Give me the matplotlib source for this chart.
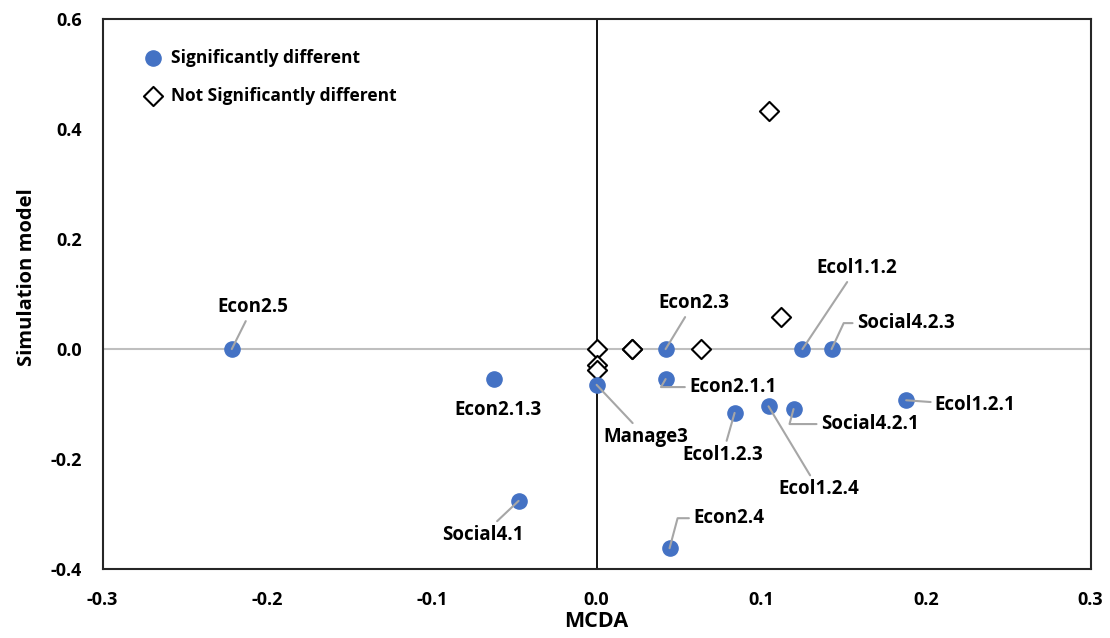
import matplotlib
matplotlib.use('Agg')
import matplotlib.pyplot as plt

plt.rcParams['font.family'] = ['Open Sans', 'DejaVu Sans']
plt.rcParams['font.weight'] = 'bold'

# significantly different points
sig_names = ['Econ2.5', 'Econ2.1.3', 'Social4.1', 'Manage3', 'Econ2.3', 'Econ2.1.1',
             'Econ2.4', 'Ecol1.2.3', 'Ecol1.2.4', 'Social4.2.1', 'Ecol1.1.2',
             'Social4.2.3', 'Ecol1.2.1']
sig_x = [-0.2216, -0.0625, -0.0474, 0.0, 0.0419, 0.0419, 0.0443, 0.0838, 0.1044,
         0.1196, 0.125, 0.1427, 0.188]
sig_y = [0.0, -0.0545, -0.276, -0.065, 0.0, -0.0545, -0.362, -0.116, -0.104, -0.109,
         0.0, 0.0, -0.093]

# not significantly different points
nonsig_x = [0.0, 0.0, 0.0, 0.0213, 0.0213, 0.0631, 0.1044, 0.1117]
nonsig_y = [0.0, -0.029, -0.038, 0.0, 0.0, 0.0, 0.433, 0.058]

# label placement: offset in pixels from the point, connector style
label_offsets = {
    'Econ2.5':     ((21, 42), 'arc3'),
    'Econ2.1.3':   ((4, -31), None),
    'Social4.1':   ((-36, -34), 'arc3'),
    'Manage3':     ((49, -52), 'arc3'),
    'Econ2.3':     ((28, 46), 'arc3'),
    'Econ2.1.1':   ((67, -8), 'angle,angleA=0,angleB=60,rad=0'),
    'Econ2.4':     ((59, 30), 'angle,angleA=0,angleB=75,rad=0'),
    'Ecol1.2.3':   ((-12, -42), 'arc3'),
    'Ecol1.2.4':   ((50, -83), 'arc3'),
    'Social4.2.1': ((76, -15), 'angle,angleA=0,angleB=75,rad=0'),
    'Ecol1.1.2':   ((54, 81), 'arc3'),
    'Social4.2.3': ((74, 26), 'angle,angleA=0,angleB=65,rad=0'),
    'Ecol1.2.1':   ((69, -5), 'arc3'),
}

fig = plt.figure(figsize=(11.1, 6.38), dpi=100)
ax = fig.add_axes([0.0925, 0.108, 0.890, 0.862])

ax.axhline(0, color='#BFBFBF', lw=1.5, zorder=1)
ax.axvline(0, color='black', lw=1.3, zorder=1)

ax.scatter(sig_x, sig_y, s=120, color='#4472C4', zorder=4, label='Significantly different')
ax.scatter(nonsig_x, nonsig_y, s=95, marker='D', facecolor='white', edgecolor='black',
           linewidths=1.5, zorder=3, label='Not Significantly different')

for name, x, y in zip(sig_names, sig_x, sig_y):
    off, conn = label_offsets[name]
    arrow = None
    if conn is not None:
        arrow = dict(arrowstyle='-', color='#A6A6A6', lw=1.5, shrinkA=1, shrinkB=0,
                     connectionstyle=conn)
    ax.annotate(name, xy=(x, y), xytext=off, textcoords='offset pixels',
                ha='center', va='center', fontsize=13.5, fontweight='bold',
                arrowprops=arrow, zorder=5)

ax.set_xlim(-0.3, 0.3)
ax.set_ylim(-0.4, 0.6)
ax.set_xticks([-0.3, -0.2, -0.1, 0.0, 0.1, 0.2, 0.3])
ax.set_yticks([-0.4, -0.2, 0.0, 0.2, 0.4, 0.6])
ax.set_xticklabels(['%.1f' % v for v in ax.get_xticks()])
ax.set_yticklabels(['%.1f' % v for v in ax.get_yticks()])
ax.tick_params(axis='x', length=0, labelsize=13, pad=16)
ax.tick_params(axis='y', length=0, labelsize=13, pad=15)
for lab in ax.get_xticklabels() + ax.get_yticklabels():
    lab.set_fontweight('bold')
for sp in ax.spines.values():
    sp.set_linewidth(1.5)
    sp.set_color('#262626')

ax.set_xlabel('MCDA', fontsize=15.5, fontweight='bold', labelpad=1)
ax.set_ylabel('Simulation model', fontsize=14.5, fontweight='bold')
ax.yaxis.set_label_coords(-0.066, 0.53)

ax.legend(loc='upper left', bbox_to_anchor=(0.021, 0.968), frameon=False,
          labelspacing=1.15, handletextpad=0.05, borderaxespad=0.3,
          prop={'weight': 'bold', 'size': 12.5})

fig.savefig('out.png', dpi=100)
